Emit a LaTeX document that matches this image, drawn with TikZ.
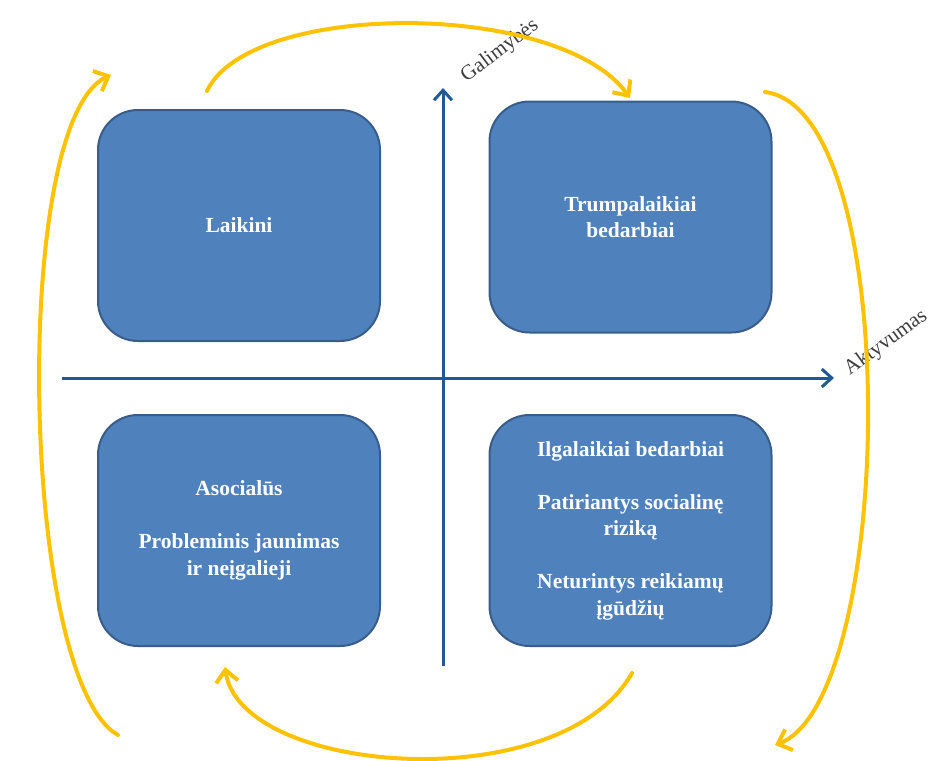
\documentclass[tikz,border=0pt]{standalone}
\usepackage{fontspec}
\setmainfont{Liberation Serif}
\usetikzlibrary{arrows.meta}
\definecolor{boxfill}{RGB}{79,129,189}
\definecolor{boxedge}{RGB}{56,93,138}
\definecolor{axisblue}{RGB}{31,90,150}
\definecolor{gold}{RGB}{255,194,0}
\definecolor{labelgray}{RGB}{60,60,60}
\begin{document}
\begin{tikzpicture}[x=1pt,y=-1pt,
  quad/.style={draw=boxedge, line width=2pt, fill=boxfill, rounded corners=40pt,
    minimum width=282pt, minimum height=231pt, text=white, align=center,
    font=\fontsize{21.5}{26.5}\selectfont\bfseries},
  axisline/.style={draw=axisblue, line width=3pt, -{Straight Barb[length=10pt,width=18pt,line width=3pt]}},
  cycle/.style={draw=gold, line width=4pt, line cap=round, -{Straight Barb[length=12pt,width=22pt,line width=4pt]}},
  axislabel/.style={text=labelgray, font=\fontsize{21}{24}\selectfont, inner sep=0pt}]
\useasboundingbox (0,0) rectangle (936,760);
% boxes
\node[quad] (tl) at (239,225.5) {Laikini};
\node[quad] (tr) at (630.5,217) {Trumpalaikiai\\bedarbiai};
\node[quad] (bl) at (239,530.5) {Asocialūs\\[26.5pt]Probleminis jaunimas\\ir neįgalieji};
\node[quad] (br) at (630.5,530.5) {Ilgalaikiai bedarbiai\\[26.5pt]Patiriantys socialinę\\riziką\\[26.5pt]Neturintys reikiamų\\įgūdžių};
% axes
\coordinate (vbot) at (443,666);
\coordinate (vtop) at (443,88);
\coordinate (hleft) at (62,378);
\coordinate (hright) at (834,378);
\draw[axisline] (vbot) -- (vtop);
\draw[axisline] (hleft) -- (hright);
\node[axislabel, rotate=37] (gal) at (500,51) {Galimybės};
\node[axislabel, rotate=36] (akt) at (886,343) {Aktyvumas};
% cycle arrows
\coordinate (a1) at (118,735);
\coordinate (a2) at (111,75);
\coordinate (b1) at (207,91);
\coordinate (b2) at (630,98);
\coordinate (c1) at (765,92);
\coordinate (c2) at (775,745);
\coordinate (d1) at (632,673);
\coordinate (d2) at (225,667);
\draw[cycle] (a1) .. controls (20,680) and (10,120) .. (a2);
\draw[cycle] (b1) .. controls (250,0) and (560,0) .. (b2);
\draw[cycle] (c1) .. controls (905,110) and (895,700) .. (c2);
\draw[cycle] (d1) .. controls (560,800) and (240,775) .. (d2);
\end{tikzpicture}
\end{document}
